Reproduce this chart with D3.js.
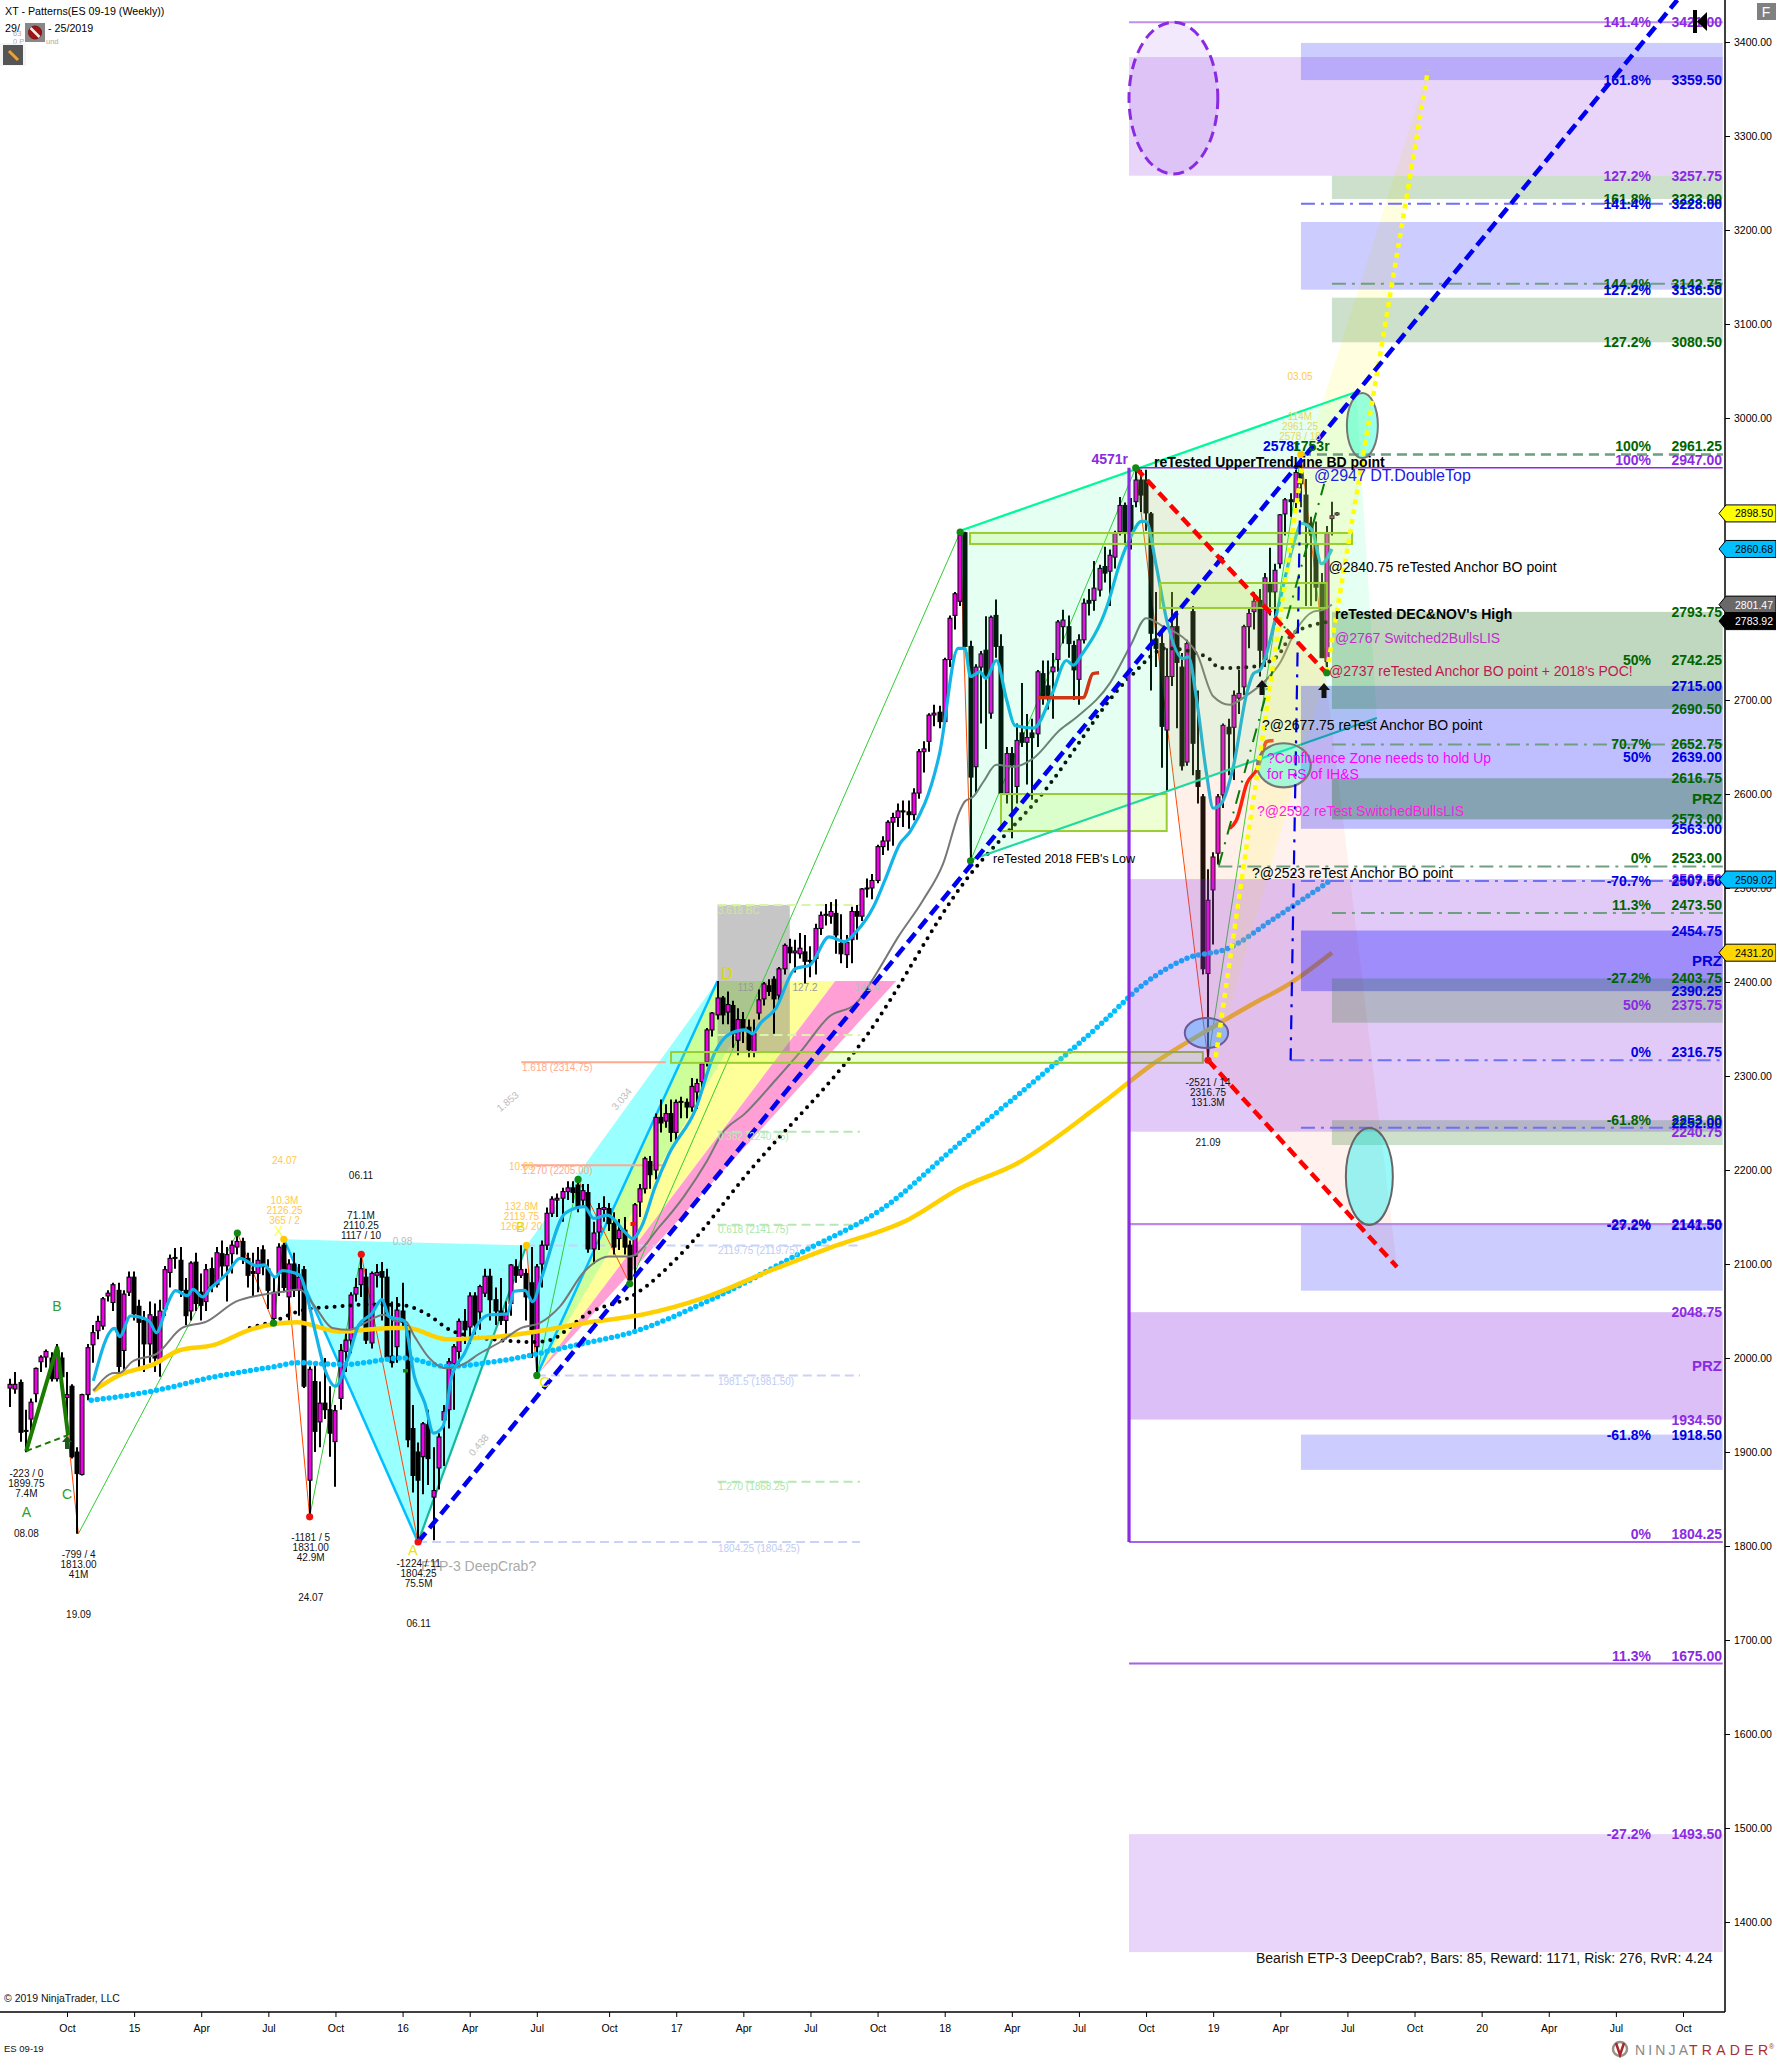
<!DOCTYPE html>
<html><head><meta charset="utf-8">
<style>html,body{margin:0;padding:0;background:#fff}svg{display:block}text{font-family:"Liberation Sans",Arial,sans-serif}</style>
<script src="https://cdn.jsdelivr.net/npm/d3@7/dist/d3.min.js"></script></head><body>
<svg id="c" width="1776" height="2058"></svg>
<script>
// ---------- DATA: weekly OHLC [open, high, low, close] ----------
const bars2014=[[1968,1978,1948,1972],[1967,1985,1962,1972],[1974,1977,1911,1921],[1923,1945,1899.75,1922],[1935,1957,1922,1953],[1962,1990,1953,1989],[1996,2003,1985,2001],[2001,2009,1990,2007],[2000,2006,1975,1978],[1978,2015,1975,2008],[2000,2006,1972,1980],[1958,1985,1926,1961],[1970,1972,1893,1895],[1900,1905,1813,1877],[1876,1962,1875,1961],[1961,2015,1955,2011],[2014,2035,1995,2027],[2029,2045,2020,2039],[2034,2065,2030,2063],[2066,2072,2060,2069],[2059,2080,2050,2078],[2072,2080,1985,1991],[2008,2072,1985,2068],[2070,2092,2066,2086]];
const bars2015=[[2086,2092,2040,2047],[2055,2062,1990,2038],[2040,2050,1985,2015],[2015,2060,1995,2046],[2044,2058,1985,2000],[1996,2062,1980,2050],[2052,2098,2045,2094],[2091,2110,2075,2106],[2106,2117,2095,2107],[2104,2118,2065,2072],[2072,2085,2035,2045],[2050,2103,2040,2101],[2102,2112,2050,2058],[2070,2090,2040,2056],[2060,2100,2050,2094],[2095,2107,2070,2076],[2078,2118,2075,2112],[2111,2125,2085,2098],[2098,2118,2060,2110],[2111,2125,2090,2120],[2118,2134,2110,2124],[2124,2128,2100,2106],[2106,2112,2075,2088],[2092,2112,2065,2090],[2090,2118,2070,2104],[2115,2120,2088,2097],[2095,2105,2052,2072],[2042,2085,2037,2070],[2090,2122,2066,2118],[2120,2126.25,2070,2075],[2065,2105,2040,2100],[2100,2112,2065,2072],[2072,2100,2045,2086],[2094,2098,1968,1970],[1870,1991,1831,1988],[1975,1995,1900,1922],[1932,1975,1905,1952],[1952,2000,1935,1945],[1945,1970,1895,1920],[1911,1950,1863,1944],[1957,2015,1945,2008],[2007,2030,1985,2019],[2019,2070,2005,2067],[2068,2085,2060,2075],[2078,2110.25,2065,2095],[2086,2095,2015,2019],[2016,2092,2010,2090],[2088,2100,2075,2091],[2092,2102,2040,2086],[2086,2095,2000,2001],[2002,2060,1990,1995],[2012,2065,1995,2051]];
const bars2016=[[2050,2080,2030,2038],[2030,2035,1905,1913],[1925,1950,1857,1875],[1900,1910,1804.25,1870],[1895,1932,1855,1930],[1929,1945,1865,1893],[1852,1905,1806,1859],[1883,1920,1860,1916],[1934,1950,1885,1943],[1945,2000,1925,1996],[1994,2015,1945,2012],[2007,2042,1990,2039],[2039,2052,2015,2030],[2033,2070,2015,2066],[2066,2070,2025,2035],[2049,2078,2030,2076],[2069,2095,2065,2087],[2087,2095,2040,2062],[2062,2075,2035,2050],[2050,2085,2035,2040],[2040,2060,2020,2048],[2058,2100,2045,2099],[2097,2105,2080,2088],[2088,2120,2085,2094],[2090,2095,2040,2065],[2080,2118,2000,2030],[2012,2100,1981.5,2097],[2100,2125,2075,2120],[2120,2160,2115,2154],[2154,2172,2150,2169],[2168,2175,2150,2170],[2170,2181,2145,2177],[2177,2188,2168,2181],[2181,2188,2165,2176],[2184,2190,2155,2160],[2168,2185,2160,2178],[2176,2185,2112,2116],[2116,2145,2100,2133],[2134,2165,2115,2159],[2158,2172,2145,2160],[2159,2165,2135,2143],[2143,2155,2110,2118],[2127,2148,2115,2136],[2136,2150,2110,2118],[2120,2125,2077,2083],[2108,2165,2028.5,2163],[2166,2185,2150,2180],[2180,2214,2175,2212],[2209,2215,2180,2195],[2200,2260,2190,2256],[2256,2275,2240,2250],[2252,2270,2245,2260],[2260,2275,2230,2240]];
const bars2017=[[2240,2275,2230,2272],[2272,2278,2255,2273],[2272,2276,2255,2267],[2267,2298,2262,2289],[2283,2297,2265,2292],[2294,2315,2285,2313],[2315,2351,2310,2349],[2349,2368,2342,2367],[2365,2401,2360,2383],[2383,2385,2355,2365],[2368,2390,2355,2376],[2375,2380,2330,2345],[2338,2372,2322,2360],[2360,2368,2335,2350],[2352,2360,2320,2328],[2326,2360,2320,2345],[2367,2392,2360,2381],[2382,2400,2375,2398],[2396,2403,2385,2390],[2403,2406,2345,2382],[2386,2416,2380,2414],[2414,2441,2408,2439],[2437,2446,2420,2431],[2431,2445,2410,2433],[2430,2452,2425,2436],[2432,2450,2398,2422],[2422,2438,2405,2423],[2425,2462,2408,2457],[2457,2475,2450,2471],[2471,2483,2460,2472],[2470,2485,2462,2475],[2473,2488,2430,2450],[2441,2472,2420,2430],[2429,2450,2415,2442],[2445,2480,2420,2475],[2475,2482,2445,2470],[2470,2500,2465,2499],[2499,2510,2490,2500],[2500,2515,2488,2508],[2508,2546,2505,2544],[2544,2555,2535,2550],[2550,2572,2540,2570],[2570,2580,2545,2575],[2575,2590,2565,2582],[2582,2593,2565,2581],[2581,2593,2563,2578],[2578,2606,2572,2601],[2601,2648,2595,2645],[2645,2656,2623,2648],[2656,2686,2645,2684],[2684,2695,2672,2686],[2687,2694,2670,2677]];
const bars2018=[[2677,2745,2675,2743],[2743,2790,2735,2787],[2790,2815,2775,2813],[2805,2878.5,2800,2875],[2878,2879,2757,2757],[2757,2763,2529,2618],[2629,2738,2600,2735],[2735,2752,2675,2749],[2753,2789,2648,2725],[2686,2790,2680,2788],[2790,2807,2745,2757],[2757,2770,2586,2601],[2601,2650,2590,2643],[2643,2650,2553,2631],[2608,2675,2590,2657],[2665,2718,2650,2655],[2655,2685,2610,2660],[2665,2680,2594,2660],[2664,2732,2650,2730],[2728,2742,2695,2703],[2715,2742,2690,2705],[2730,2750,2680,2735],[2743,2785,2730,2783],[2778,2796,2760,2785],[2778,2790,2745,2760],[2758,2763,2700,2732],[2722,2770,2695,2764],[2764,2808,2760,2803],[2806,2818,2790,2803],[2806,2848,2795,2819],[2817,2844,2810,2840],[2842,2863,2825,2835],[2837,2860,2800,2854],[2852,2880,2840,2877],[2879,2916,2875,2907],[2907,2910,2865,2879],[2907,2915,2860,2880],[2911,2947,2905,2934],[2934,2945,2900,2918],[2934,2945,2880,2899],[2898,2900,2710,2771],[2765,2815,2735,2755],[2760,2775,2628,2672],[2668,2755,2603,2725],[2725,2815,2715,2778],[2778,2795,2670,2740],[2735,2750,2625,2630],[2634,2764,2630,2760],[2794,2800,2620,2654],[2625,2710,2590,2608],[2597,2600,2408,2414],[2409,2520,2316.75,2487]];
const bars2019=[[2498,2538,2440,2533],[2537,2600,2525,2597],[2599,2675,2585,2673],[2671,2680,2620,2664],[2671,2710,2615,2705],[2702,2732,2685,2707],[2714,2780,2705,2778],[2778,2797,2755,2792],[2794,2815,2775,2805],[2806,2818,2725,2753],[2743,2835,2735,2830],[2824,2862,2790,2815],[2815,2845,2780,2838],[2845,2898,2840,2897],[2898,2915,2875,2913],[2913,2920,2895,2911],[2911,2945,2900,2942],[2942,2961.25,2905,2930],[2918,2935,2800,2888],[2888,2895,2800,2877],[2865,2890,2805,2820],[2824,2835,2745,2745],[2741,2885,2729,2877],[2893,2911,2875,2896],[2897,2900,2896,2899]];

// moving averages: [week index, price]
const maFast=[[16.1,1975.6],[20.2,2031.6],[21.2,2022.7],[23.3,2044.7],[24.7,2044],[27,2038.7],[28.3,2027],[30.5,2058],[32,2071.7],[34.3,2066.3],[35.4,2073],[37.3,2065],[38.8,2074],[42,2090],[44.5,2106],[47.8,2098],[49.2,2099],[51.3,2086],[52.7,2093],[56.1,2088],[57.2,2072],[59,2030],[61,1987],[63,1970],[65.5,2001],[67.5,2035],[70,2047],[72,2062],[73.4,2044],[76.2,2040],[78.3,1980],[80.3,1952],[82,1920],[83.8,1927],[85.5,1980],[88,2005],[90.7,2037],[92.8,2046],[96.3,2047],[97.6,2071],[99.7,2072],[101.2,2060],[102.9,2085],[107.5,2154],[111.2,2161],[113,2148.6],[115.6,2152],[119.3,2132.6],[120.5,2127],[122.3,2140],[124.9,2182],[127.5,2216],[132.7,2264],[136.4,2324],[139.4,2345],[142.3,2349],[143.8,2345],[145.3,2356],[148.3,2372],[152,2414],[154.9,2418],[158.6,2448],[161.6,2443],[163.8,2453],[167.2,2480],[169.4,2508],[172.3,2547],[174.3,2560],[180,2643],[183.6,2755],[184.9,2755],[186,2725],[187.8,2730],[189,2723],[191,2742],[193,2700],[194.6,2673],[198.2,2670],[201.7,2705],[204.6,2742],[205.9,2737],[207.5,2748],[212.4,2799],[214.9,2845],[216.9,2872],[219.1,2890],[220,2890],[222,2842],[224,2785],[227.2,2744],[228.2,2746],[229.8,2700],[231.7,2622],[233,2585],[234.6,2590],[236.9,2629],[239.5,2707],[240.8,2728],[242.1,2732],[245.3,2792],[248.8,2870],[250.1,2888],[252.1,2881],[254,2845],[256,2860.68]];
const maGray=[[16.1,1965],[20.2,1984],[21.2,1984],[23.6,1996],[28.5,2005],[33.3,2032],[38.1,2039],[43.7,2060],[48.5,2067],[53.4,2071],[56.1,2073],[59,2055],[62.4,2032],[65.8,2030],[68.6,2037],[72.4,2046],[74.8,2039],[76.5,2039],[78.3,2023],[81,2001],[84.5,1989],[88,1994],[90.7,2004],[94.9,2017],[99,2032],[102.5,2037],[106.5,2055],[111.2,2092],[116,2108],[120,2108],[125.8,2140],[130.5,2172],[134.9,2209],[137.9,2239],[142.3,2260],[148.3,2296],[153.4,2328],[158.6,2363],[163.8,2377],[167.2,2404],[172,2448],[176.8,2487],[180.7,2526],[184,2583],[184.9,2592],[186.5,2597],[188.5,2613],[191,2631],[194.3,2629],[198.2,2638],[203.3,2668],[206.6,2682],[213,2718],[217,2758],[220,2787],[223.4,2778],[227.7,2764],[229.8,2750],[233,2704],[236.2,2695],[239.5,2705],[243.2,2721],[245.9,2739],[249,2774],[252.4,2794],[254.3,2796],[256,2801.47]];
const maDotted=[[46.4,2032],[50.9,2039],[56.8,2051],[63.7,2055],[70,2057],[76.2,2056],[80.3,2048],[85.9,2028],[94.9,2019],[101.8,2017],[104.5,2019],[111.9,2047.5],[120.8,2067],[131.2,2118],[142.3,2193],[166,2344],[184.9,2507],[200,2601],[217,2725],[224,2755],[231.7,2746],[234.3,2734],[240.1,2735],[245.3,2746],[248.5,2771],[256.3,2783.92]];
const maBlue=[[15.7,1955],[27.8,1965],[39.5,1980],[51.3,1991],[55.5,1995],[64.4,1993],[76.2,2000],[84.5,1991],[94.9,1997],[109.7,2014],[120.8,2028],[134.9,2060],[154.2,2115],[169,2159],[183.8,2228],[198.7,2296],[211,2354],[219.4,2397],[227.8,2425],[236,2436],[244.4,2466],[256,2509.02]];
const maGold=[[16.1,1965],[21.2,1982],[28.1,1994],[32.6,2008],[39.5,2014],[46.4,2030],[55.5,2038],[63.7,2028],[74.1,2032],[76.9,2032],[84.5,2020],[94.9,2023],[113.4,2039],[122.3,2046],[134.9,2065],[146.8,2092],[158.6,2117],[174.2,2148],[183.8,2180],[195,2207],[211,2269],[221.9,2315],[232,2349],[240.3,2375.5],[247.9,2398.6],[256,2431.2]];
const redCurveA=[[199.1,2702.4],[207.8,2702.4],[209.7,2728],[210.9,2729]];
const redCurveB=[[236.2,2563.4],[237.5,2572],[239.5,2611],[241.7,2629],[242.7,2647],[243.3,2655.6],[244.7,2657]];

// swing points [week, price]
const swingRed=[[58,1831],[68,2110.25],[79,1804.25],[232,2316.75]];
const swingGreen=[[44,2133],[51,2037],[110,2190],[120,2079],[102,1981.5],[184,2878.5],[186,2529],[218,2947],[255,2729]];
const swingGold=[[53,2126.25],[100,2119.75],[250,2961.25]];
const thinGreen=[[[13.2,1813],[44,2133]],[[51,2037],[53,2126.25]],[[58,1831],[68,2110.25]],[[102,1981.5],[110,2190]],[[120,2079],[184,2878.5]],[[186,2529],[218,2947]],[[232,2316.75],[250,2961.25]]];
const thinOrange=[[[44,2133],[51,2037]],[[11.2,1918],[13.2,1813]],[[53,2126.25],[58,1831]],[[68,2110.25],[79,1804.25]],[[100,2119.75],[102,1981.5]],[[110,2190],[120,2079]],[[184,2878.5],[186,2529]],[[218,2947],[232,2316.75]],[[250,2961.25],[255,2729]]];

// harmonic pattern vertices
const crabWing1=[[53,2126.25],[79,1804.25],[100,2119.75]];
const crabWing2=[[100,2119.75],[102,1981.5],[137,2401]];
const fanGreen=[[102,1981.5],[137,2401],[146.8,2401]];
const fanYellow=[[102,1981.5],[146.8,2401],[159.8,2401]];
const fanPink=[[102,1981.5],[159.8,2401],[171.6,2401]];
const abcPattern=[[3.1,1901],[9.1,2012],[11.2,1918]];
// wedge, triangles and projections
const wedge=[[184,2880],[260.7,3027.7],[264.7,2680.9],[186,2529.8]];
const triA=[[218,2947],[254.7,2729.8],[232,2316.75]];
const triB=[[232,2316.75],[254.7,2729.8],[268.6,2096.8]];
const yellowProj=[[274.6,3370],[255,2729.8],[233.5,2320],[250.2,2947.9]];
const yellowLine1=[[233.5,2320],[250.2,2947.9]];
const yellowLine2=[[255,2729.8],[274.6,3370]];
const trendBlue=[[79,1804.25],[322.9,3444.7]];
const redDash1=[[218,2947],[254.7,2729.8]];
const redDash2=[[232,2316.75],[268.6,2096.8]];
const wedgeLow=[[186,2529.8],[264.7,2680.9]];
const wedgeHigh=[[184,2880],[260.7,3027.7]];
const greenDashDot=[[234.1,2524],[254.5,2930]];
const blueDashDot=[[250,2961.25],[248,2316.75]];

// boxes [weekStart, weekEnd, priceTop, priceBottom]
const greenBoxes=[[128,231,2325.5,2314],[185.9,259.9,2877.7,2866],[222.7,255,2824.5,2797.9],[191.9,224,2600,2560.6]];
const grayBox=[137,151,2482,2325.5];
// ellipses [weekLeft, weekRight, priceTop, priceBottom]
const ellipses=[[216.7,233.9,3421,3259.6],[258.9,264.9,3026.6,2957.4],[241.5,251.9,2654,2607],[227.5,235.9,2361.7,2329.8],[258.7,267.8,2244.7,2141.5]];

// price zones [priceTop, priceBottom]
const purpleZones=[[3384,3257.75],[2509.5,2240.75],[2048.75,1934.5],[1493.5,1368]];
const blueZones=[[3399,3359.5],[3208.5,3136.5],[2715,2563],[2454.75,2390.25],[2142,2071.6],[1918.5,1881]];
const greenZones=[[3257.75,3233],[3128,3080.5],[2793.75,2690.5],[2616.75,2573],[2403.75,2356.7],[2253,2226.6]];
const zoneEnd=331.7, purpleStart=216.7, blueStart=250, greenStart=256;

// pattern projection levels [week start, week end, price]
const fibPaleYellow=[[137,164.6,2482],[137,164.6,2343.6]];
const fibPaleGreen=[[137,164.6,2240.75],[137,164.6,2141.75],[137,164.6,1868.25]];
const fibPaleBlue=[[100,164.6,2119.75],[102,164.6,1981.5],[79,164.6,1804.25]];
const fibSalmon=[[99,127,2314.75],[99,127,2205]];

// horizontal levels
const blueLevels=[3228,2961.25,2507.5,2316.75,2245];
const greenLevels=[3142.75,2961.25,2652.75,2523,2473.5];

// right-side labels: pct, price text, numeric price
const labelsPurple=[["141.4%","3421.00",3421],["127.2%","3257.75",3257.75],["100%","2947.00",2947],["","2509.50",2509.5],["50%","2375.75",2375.75],["","2240.75",2240.75],["-29.2%","2142.50",2142.5],["","2048.75",2048.75],["","1934.50",1934.5],["0%","1804.25",1804.25],["11.3%","1675.00",1675],["-27.2%","1493.50",1493.5]];
const labelsBlue=[["161.8%","3359.50",3359.5],["141.4%","3228.00",3228],["127.2%","3136.50",3136.5],["","2715.00",2715],["50%","2639.00",2639],["","2563.00",2563],["-70.7%","2507.50",2507.5],["","2454.75",2454.75],["","2390.25",2390.25],["0%","2316.75",2316.75],["","2252.00",2250],["-27.2%","2141.50",2141.5],["-61.8%","1918.50",1918.5]];
const labelsGreen=[["161.8%","3233.00",3233],["144.4%","3142.75",3142.75],["127.2%","3080.50",3080.5],["100%","2961.25",2961.25],["","2793.75",2793.75],["50%","2742.25",2742.25],["","2690.50",2690.5],["70.7%","2652.75",2652.75],["","2616.75",2616.75],["","2573.00",2573],["0%","2523.00",2523],["11.3%","2473.50",2473.5],["-27.2%","2403.75",2403.75],["-61.8%","2253.00",2253]];
const prz=[["PRZ",2595,"#006400"],["PRZ",2423,"#0000e0"],["PRZ",1992,"#8a2be2"]];
const raised=[2961.25,2947,2523,2473.5,2316.75,1804.25,1675];

// axis
const priceTicks=d3.range(1400,3401,100);
const timeTicks=[[11,"Oct"],[24,"15"],[37,"Apr"],[50,"Jul"],[63,"Oct"],[76,"16"],[89,"Apr"],[102,"Jul"],[116,"Oct"],[129,"17"],[142,"Apr"],[155,"Jul"],[168,"Oct"],[181,"18"],[194,"Apr"],[207,"Jul"],[220,"Oct"],[233,"19"],[246,"Apr"],[259,"Jul"],[272,"Oct"],[285,"20"],[298,"Apr"],[311,"Jul"],[324,"Oct"]];
// last-value flags
const flags=[[2898.50,"#ffff00","#000"],[2860.68,"#00bfff","#000"],[2801.47,"#696969","#fff"],[2783.92,"#000","#fff"],[2509.02,"#00bfff","#000"],[2431.20,"#ffd700","#000"]];

// ---------- DRAW ----------
const svg=d3.select("#c");
const X=d3.scaleLinear().domain([0,324]).range([10.2,1683]);
const Y=d3.scaleLinear().domain([3400,1400]).range([42,1922]);
svg.append("defs").append("clipPath").attr("id","plot").append("rect").attr("x",0).attr("y",0).attr("width",1725).attr("height",2012);
const g=svg.append("g").attr("clip-path","url(#plot)");
const line=d3.line().x(d=>X(d[0])).y(d=>Y(d[1]));
const smooth=d3.line().x(d=>X(d[0])).y(d=>Y(d[1])).curve(d3.curveMonotoneX);
const closed=d3.line().x(d=>X(d[0])).y(d=>Y(d[1])).curve(d3.curveLinearClosed);
function poly(d,fill,op=1){return g.append("path").attr("d",closed(d)).attr("fill",fill).attr("fill-opacity",op);}
function stroke(gen,d,col,w,dash,cap){const p=g.append("path").attr("d",gen(d)).attr("fill","none").attr("stroke",col).attr("stroke-width",w);if(dash)p.attr("stroke-dasharray",dash);if(cap)p.attr("stroke-linecap",cap);return p;}

// harmonic fills, beneath the candles
poly(crabWing1,"#99ffff");poly(crabWing2,"#99ffff");
poly(fanGreen,"#ccff99");poly(fanYellow,"#ffff99");poly(fanPink,"#ff9fd5");
stroke(line,[crabWing1[0],crabWing1[1]],"#00bfff",2.5);
stroke(line,[crabWing1[1],crabWing1[2]],"#16b89a",2.2);
stroke(line,[crabWing2[1],crabWing2[2]],"#00bfff",2.5);
g.append("rect").attr("x",X(grayBox[0])).attr("width",X(grayBox[1])-X(grayBox[0])).attr("y",Y(grayBox[2])).attr("height",Y(grayBox[3])-Y(grayBox[2])).attr("fill","#808080").attr("fill-opacity",.45);

// thin pattern legs
thinGreen.forEach(s=>stroke(line,s,"#32cd32",1));
thinOrange.forEach(s=>stroke(line,s,"#ff4500",1));

// pale fib levels
fibPaleYellow.forEach(d=>stroke(line,[[d[0],d[2]],[d[1],d[2]]],"#d8f5a8",2,"9 5"));
fibPaleGreen.forEach(d=>stroke(line,[[d[0],d[2]],[d[1],d[2]]],"#b5e8b5",2,"9 5"));
fibPaleBlue.forEach(d=>stroke(line,[[d[0],d[2]],[d[1],d[2]]],"#c8d4f5",2,"9 5"));
fibSalmon.forEach(d=>stroke(line,[[d[0],d[2]],[d[1],d[2]]],"#ffa98f",2));

// candles
const bars=[...bars2014,...bars2015,...bars2016,...bars2017,...bars2018,...bars2019].map((b,i)=>({w:i,o:b[0],h:b[1],l:b[2],c:b[3]}));
const cx=d=>Math.round(X(d.w));
const cg=g.append("g");
cg.selectAll("line").data(bars).join("line").attr("x1",cx).attr("x2",cx).attr("y1",d=>Y(d.h)).attr("y2",d=>Y(d.l)).attr("stroke","#000").attr("stroke-width",2);
cg.selectAll("rect").data(bars).join("rect").attr("x",d=>cx(d)-2).attr("width",4)
 .attr("y",d=>Y(Math.max(d.o,d.c))).attr("height",d=>Math.max(1,Math.abs(Y(d.o)-Y(d.c))))
 .attr("fill",d=>d.c>=d.o?"#f000e6":"#000").attr("stroke","#000").attr("stroke-width",1);

// ABC thick pattern
stroke(line,abcPattern,"#1a7d00",4);
stroke(line,[abcPattern[0],abcPattern[2]],"#1a7d00",2,"6 4");

// moving averages
stroke(smooth,maDotted,"#000",4,"0 8","round");
stroke(smooth,maBlue,"#00bfff",5.5,"0 6","round");
stroke(smooth,maGold,"#ffd000",4.5);
stroke(smooth,maGray,"#777",2);
stroke(smooth,maFast,"#14b4e8",3.2);
stroke(smooth,redCurveA,"#e6200a",3.5);
stroke(smooth,redCurveB,"#ff1500",3.5);

// translucent layers
poly(wedge,"#00ff80",.1);
poly(triA,"#ff8c50",.12);
poly(triB,"#ff7850",.1);
poly(yellowProj,"#ffff66",.2);
greenBoxes.forEach(b=>g.append("rect").attr("x",X(b[0])).attr("width",X(b[1])-X(b[0])).attr("y",Y(b[2])).attr("height",Y(b[3])-Y(b[2])).attr("fill","#adff2f").attr("fill-opacity",.2).attr("stroke","#9acd32").attr("stroke-width",2));
stroke(line,wedgeHigh,"#00fa9a",2.2);
stroke(line,wedgeLow,"#20d8a0",2.2);

// zones
function zones(list,start,col,ops){list.forEach((z,i)=>g.append("rect").attr("x",X(start)).attr("width",X(zoneEnd)-X(start)).attr("y",Y(z[0])).attr("height",Y(z[1])-Y(z[0])).attr("fill",col).attr("fill-opacity",ops[i]));}
zones(purpleZones,purpleStart,"#8a2be2",[.2,.25,.3,.2]);
zones(blueZones,blueStart,"#0000ff",[.2,.2,.25,.3,.2,.2]);
zones(greenZones,greenStart,"#006400",[.2,.2,.25,.3,.2,.2]);

// levels
function hl(p,start,col,w,dash){stroke(line,[[start,p],[zoneEnd,p]],col,w,dash);}
hl(3421,purpleStart,"#c08fec",2.2);hl(2947,218,"#8a2be2",1.5);hl(2142.5,purpleStart,"#b98ae8",2.2);hl(1804.25,purpleStart,"#8a2be2",1.5);hl(1675,purpleStart,"#a860e6",2);
blueLevels.forEach((p,i)=>hl(p,i==3?248:blueStart,"#7070f5",2,i==1?"10 6":"14 6 3 6"));
greenLevels.forEach((p,i)=>hl(p,i==1?250:i==3?234:greenStart,"#6f9f80",2,i==1?"10 6":"14 6 3 6"));
stroke(line,[[purpleStart,2947],[purpleStart,1804.25]],"#8a2be2",3.2);

// ellipses
const eStyle=[["#8a2be2",.1,"#8a2be2",3,"11 6"],["#00ffcc",.4,"#777",2,null],["#00ffdd",.35,"#777",2.2,null],["#30a0ff",.4,"#6b5b95",2,null],["#00f0f0",.4,"#666",2,null]];
ellipses.forEach((e,i)=>{const s=eStyle[i];const el=g.append("ellipse").attr("cx",(X(e[0])+X(e[1]))/2).attr("cy",(Y(e[2])+Y(e[3]))/2).attr("rx",(X(e[1])-X(e[0]))/2).attr("ry",(Y(e[3])-Y(e[2]))/2).attr("fill",s[0]).attr("fill-opacity",s[1]).attr("stroke",s[2]).attr("stroke-width",s[3]);if(s[4])el.attr("stroke-dasharray",s[4]);});

// strong trendlines
stroke(line,greenDashDot,"#0a7a0a",2,"14 8 2 8");
stroke(line,blueDashDot,"#0000e6",2.2,"14 8 3 8");
stroke(line,yellowLine1,"#ffff00",4.5,"5 5");
stroke(line,yellowLine2,"#ffff00",4.5,"5 5");
stroke(line,trendBlue,"#0000f0",4.5,"12 6");
stroke(line,redDash1,"#ff0000",4.5,"11 6");
stroke(line,redDash2,"#ff0000",4.5,"11 6");

// swing dots
g.selectAll(".sr").data(swingRed).join("circle").attr("cx",d=>X(d[0])).attr("cy",d=>Y(d[1])).attr("r",3.6).attr("fill","#f01010");
g.selectAll(".sg").data(swingGreen).join("circle").attr("cx",d=>X(d[0])).attr("cy",d=>Y(d[1])).attr("r",3.6).attr("fill","#108a10");
g.selectAll(".sy").data(swingGold).join("circle").attr("cx",d=>X(d[0])).attr("cy",d=>Y(d[1])).attr("r",3.6).attr("fill","#ffc800");

// right labels
function pctLabels(list,col){list.forEach(l=>{const dy=raised.includes(l[2])?-8:0;const y=Y(l[2])+dy;
 svg.append("text").attr("x",1722).attr("y",y).attr("text-anchor","end").attr("dominant-baseline","central").attr("font-size",14).attr("font-weight","bold").attr("fill",col).text(l[1]);
 if(l[0])svg.append("text").attr("x",1651).attr("y",y).attr("text-anchor","end").attr("dominant-baseline","central").attr("font-size",14).attr("font-weight","bold").attr("fill",col).text(l[0]);});}
pctLabels(labelsPurple,"#8a2be2");pctLabels(labelsGreen,"#006400");pctLabels(labelsBlue,"#0000e6");
prz.forEach(l=>svg.append("text").attr("x",1722).attr("y",Y(l[1])).attr("text-anchor","end").attr("dominant-baseline","central").attr("font-size",15).attr("font-weight","bold").attr("fill",l[2]).text(l[0]));

// free text
function note(t,x,y,col,size,opt={}){const e=svg.append("text").attr("x",x).attr("y",y).attr("dominant-baseline","central").attr("fill",col).attr("font-size",size).attr("text-anchor",opt.anchor||"start").text(t);if(opt.bold)e.attr("font-weight","bold");if(opt.rot!=null)e.attr("transform",`rotate(${opt.rot} ${x} ${y})`);if(opt.op)e.attr("fill-opacity",opt.op);return e;}
const c={anchor:"middle"};
[["-223 / 0",1473],["1899.75",1483.5],["7.4M",1493.5],["08.08",1533]].forEach(d=>note(d[0],26.4,d[1],"#111",10,c));
[["-799 / 4",1554],["1813.00",1564.5],["41M",1574.5],["19.09",1614]].forEach(d=>note(d[0],78.6,d[1],"#111",10,c));
[["-1181 / 5",1537.5],["1831.00",1547.5],["42.9M",1557.5],["24.07",1597]].forEach(d=>note(d[0],310.7,d[1],"#111",10,c));
note("ETP-3 DeepCrab?",421,1566,"#aaa",14);
[["-1224 / 11",1563.5],["1804.25",1573.5],["75.5M",1583.5],["06.11",1623]].forEach(d=>note(d[0],418.6,d[1],"#111",10,c));
[["06.11",1175.5],["71.1M",1215.5],["2110.25",1225.5],["1117 / 10",1235.5]].forEach(d=>note(d[0],361,d[1],"#111",10,c));
[["24.07",1160],["10.3M",1200.5],["2126.25",1210.5],["365 / 2",1220.5]].forEach(d=>note(d[0],284.5,d[1],"#ffc94d",10,c));
[["10.00",1166.5],["132.8M",1206.5],["2119.75",1216.5],["1262 / 20",1226.5]].forEach(d=>note(d[0],521.4,d[1],"#ffc94d",10,c));
[["-2521 / 14",1082],["2316.75",1092],["131.3M",1102],["21.09",1142]].forEach(d=>note(d[0],1208,d[1],"#111",10,c));
[["03.05",376,"#ffc94d"],["114M",416,"#e8d860"],["2961.25",426,"#e8d860"],["2578 / 18",436,"#e8d860"]].forEach(d=>note(d[0],1300,d[1],d[2],10,c));
note("A",26.4,1512,"#2e9e2e",14,c);note("B",57,1306,"#2e9e2e",14,c);note("C",67,1494,"#2e9e2e",14,c);
note("X",278.6,1231,"#ffff33",14,c);note("A",413,1550,"#e6e600",14,c);note("B",520.7,1226.5,"#e6d800",14,c);note("C",544.6,1381.5,"#e6e600",14,c);note("D",727,973,"#e0d800",16,c);
note("0.98",402.5,1241.5,"#bbb",10,c);note("0.438",478.6,1445,"#bbb",10,{anchor:"middle",rot:-50});note("3.034",621.7,1099,"#bbb",10,{anchor:"middle",rot:-50});note("1.853",507.6,1101.5,"#bbb",10,{anchor:"middle",rot:-40});
note("113",745.7,987.7,"#999",10,c);note("127.2",805,987.7,"#999",10,c);note("141.4",867.4,987.7,"#bbb",10,c);
note("1.618 (2314.75)",522,1067.5,"#ffa98f",10);note("1.270 (2205.00)",522,1170.5,"#ffa98f",10);
note("3.618 BC",718,910.5,"#cfe89a",10);note("0.382 (2240.75)",718,1136.5,"#b5e8b5",10);note("0.618 (2141.75)",718,1229,"#a8e8a8",10);note("2119.75 (2119.75)",718,1250.5,"#c0ccf5",10);note("1981.5 (1981.50)",718,1381,"#c0ccf5",10);note("1.270 (1868.25)",718,1486,"#a8e8a8",10);note("1804.25 (1804.25)",718,1548,"#c0ccf5",10);
note("4571r",1128,459,"#8a2be2",14,{anchor:"end",bold:true});
note("2578r",1263,446,"#0000e6",14,{bold:true});
note("1753r",1293,446,"#006400",14,{bold:true});
note("reTested UpperTrendLine BD point",1154,461.5,"#000",14,{bold:true});
note("@2947 DT.DoubleTop",1314,475,"#2020e0",16);
note("@2840.75 reTested Anchor BO point",1328.5,567,"#000",14);
note("reTested DEC&NOV's High",1335,614,"#000",14,{bold:true});
note("@2767 Switched2BullsLIS",1335,638,"#c030c8",14);
note("@2737 reTested Anchor BO point + 2018's POC!",1329,671,"#c01850",14);
note("?@2677.75 reTest Anchor BO point",1262,725,"#000",14);
note("?Confluence Zone needs to hold Up",1267,758,"#ff00ff",14);
note("for RS of IH&S",1267,774,"#ff00ff",14);
note("?@2592 reTest SwitchedBullsLIS",1257,811,"#ff20e0",14);
note("?@2523 reTest Anchor BO point",1252,873,"#000",14);
note("reTested 2018 FEB's Low",993,859,"#000",12.5);
note("Bearish ETP-3 DeepCrab?, Bars: 85, Reward: 1171, Risk: 276, RvR: 4.24",1256,1958,"#111",14);

// up arrows
[[1262,680,695],[1324,683,698]].forEach(a=>svg.append("path").attr("d",`M${a[0]},${a[1]}l6,7h-3.5v8h-5v-8h-3.5z`).attr("fill","#111"));
svg.append("path").attr("d","M67,1436l5,6h-3v7h-4v-7h-3z").attr("fill","#1a5a1a");
svg.append("rect").attr("x",630.5).attr("y",1222).attr("width",5).attr("height",4).attr("fill","#f01010");
svg.append("rect").attr("x",403).attr("y",1369).attr("width",5).attr("height",3.5).attr("fill","#108a10");

// axes
const ax=svg.append("g").attr("transform","translate(1725,0)").call(d3.axisRight(Y).tickValues(priceTicks).tickSize(5).tickPadding(4).tickFormat(d3.format(".2f")));
ax.select(".domain").attr("d","M0,0V2012").attr("stroke","#000").attr("stroke-width",1.5);
ax.selectAll("text").attr("font-size",10.5).attr("font-family","'Liberation Sans'").attr("fill","#000");
const labelOf=new Map(timeTicks);
const bx=svg.append("g").attr("transform","translate(0,2012)").call(d3.axisBottom(X).tickValues(timeTicks.map(d=>d[0])).tickSize(5).tickPadding(8).tickFormat(d=>labelOf.get(d)));
bx.select(".domain").attr("d","M0,0H1725").attr("stroke","#000").attr("stroke-width",1.5);
bx.selectAll("text").attr("font-size",10.5).attr("font-family","'Liberation Sans'").attr("fill","#000");

// flags
flags.forEach(f=>{const y=Y(f[0]);const gf=svg.append("g");
 gf.append("path").attr("d",`M1719,${y}L1726,${y-8.5}H1776V${y+8.5}H1726Z`).attr("fill",f[1]).attr("stroke","#000").attr("stroke-width",1);
 gf.append("text").attr("x",1773).attr("y",y).attr("text-anchor","end").attr("dominant-baseline","central").attr("font-size",10.5).attr("fill",f[2]).text(f[0].toFixed(2));});

// corner furniture
note("XT - Patterns(ES 09-19 (Weekly))",5,11,"#000",10.7);
note("29/",5,28,"#000",10.7);note("- 25/2019",48,28,"#000",10.7);
note("63",13,33,"#aaa",7.5);note("0 P",13,41,"#aaa",7.5);note("und",46,41,"#aaa",7.5);
svg.append("rect").attr("x",25).attr("y",23).attr("width",20).attr("height",19).attr("fill","#888");
svg.append("circle").attr("cx",35).attr("cy",32.5).attr("r",6.5).attr("fill","#a01414").attr("stroke","#7a0f0f");
svg.append("line").attr("x1",30.5).attr("y1",28).attr("x2",39.5).attr("y2",37).attr("stroke","#eee").attr("stroke-width",2.5);
svg.append("rect").attr("x",0).attr("y",43).attr("width",26).attr("height",23).attr("fill","#eee").attr("fill-opacity",.6);
svg.append("rect").attr("x",3).attr("y",45).attr("width",20).attr("height",20).attr("fill","#555");
svg.append("line").attr("x1",9).attr("y1",51).attr("x2",18).attr("y2",60).attr("stroke","#f0a030").attr("stroke-width",3);
svg.append("rect").attr("x",1757).attr("y",3).attr("width",19).attr("height",17).attr("fill","#808080");
svg.append("text").attr("x",1766).attr("y",12).attr("text-anchor","middle").attr("dominant-baseline","central").attr("font-size",14).attr("fill","#fff").text("F");
svg.append("path").attr("d","M1693,10h4v23h-4zM1697,21.5L1707,12V31Z").attr("fill","#000");
note("© 2019 NinjaTrader, LLC",4,1998,"#111",10.5);
note("ES 09-19",4,2048.5,"#111",9.5);
svg.append("circle").attr("cx",1620).attr("cy",2049).attr("r",7).attr("fill","none").attr("stroke","#9a9088").attr("stroke-width",2.5);
svg.append("path").attr("d","M1616,2043L1620,2055L1624,2043").attr("fill","none").attr("stroke","#a82828").attr("stroke-width",2.5);
note("NINJA",1635,2049.5,"#888",14).attr("textLength",53).attr("lengthAdjust","spacing");
note("TRADER",1689,2049.5,"#a83030",14).attr("textLength",79).attr("lengthAdjust","spacing");
note("®",1769,2046,"#a83030",7);
</script></body></html>
